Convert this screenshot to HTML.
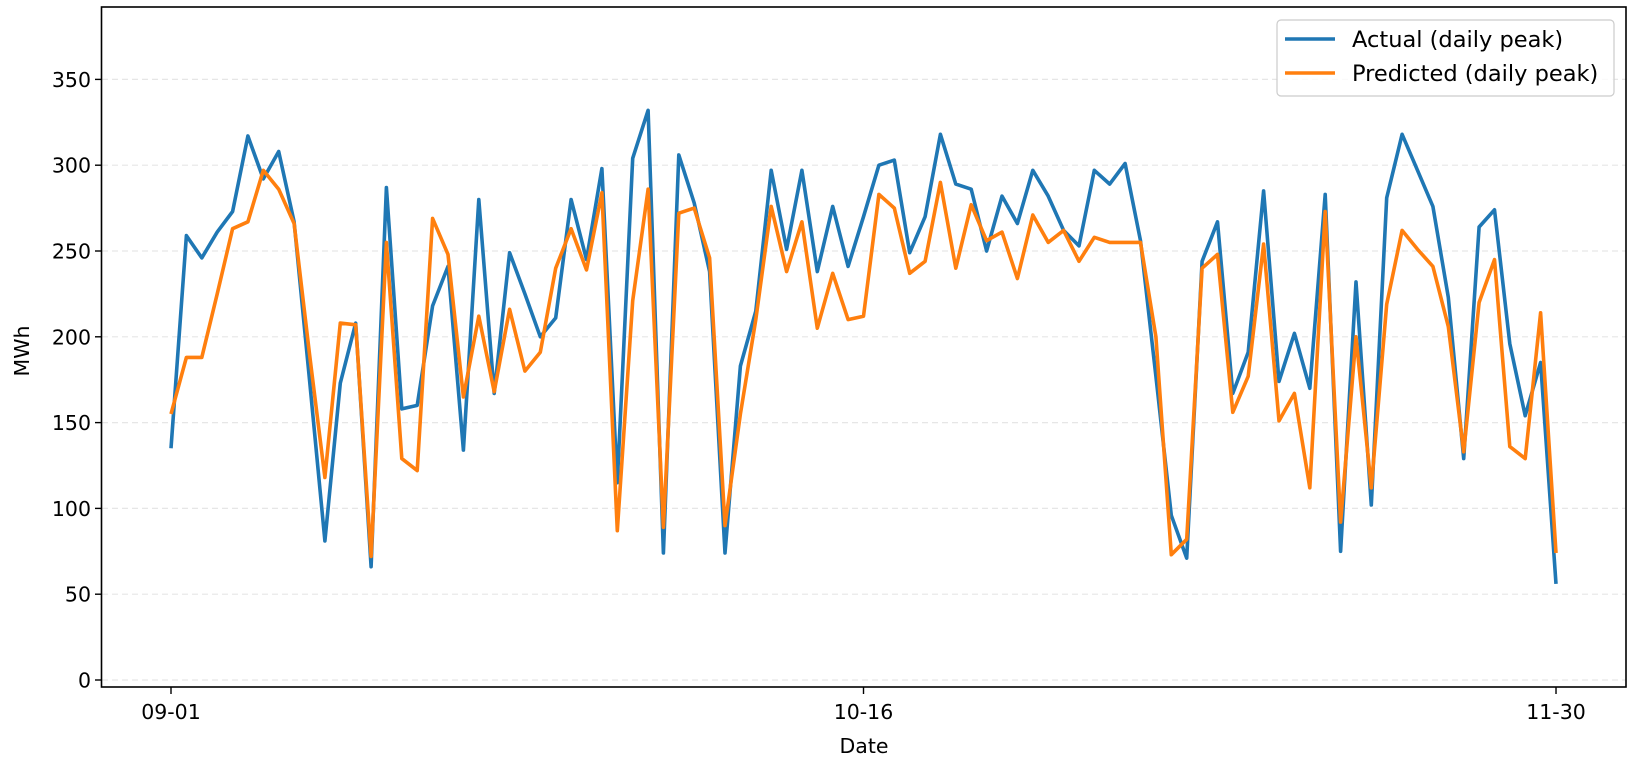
<!DOCTYPE html>
<html><head><meta charset="utf-8"><style>
body{margin:0;background:#fff;}
svg text{font-family:"DejaVu Sans","Liberation Sans",sans-serif;fill:#000;}
</style></head><body>
<svg id="s" width="1634" height="768" xmlns="http://www.w3.org/2000/svg">
<rect width="1634" height="768" fill="#fff"/>
<g id="grid" stroke="#e6e6e6" stroke-width="1.2" stroke-dasharray="6,4"></g>
<g id="ticks"></g>
<polyline id="pb" fill="none" stroke="#1f77b4" stroke-width="3.6" stroke-linejoin="round"/>
<polyline id="po" fill="none" stroke="#ff7f0e" stroke-width="3.6" stroke-linejoin="round"/>
<rect x="101.5" y="7" width="1524.5" height="680" fill="none" stroke="#000" stroke-width="1.6"/>
<rect x="1277" y="20" width="337" height="76" rx="4" fill="#fff" fill-opacity="0.8" stroke="#ccc" stroke-width="1.2"/>
<line x1="1285" y1="39" x2="1335" y2="39" stroke="#1f77b4" stroke-width="3.6"/>
<line x1="1285" y1="73" x2="1335" y2="73" stroke="#ff7f0e" stroke-width="3.6"/>
<text x="1352" y="47" font-size="22.5" textLength="251" lengthAdjust="spacingAndGlyphs" style="display:none"></text>
<text x="1352" y="47" font-size="22.5">Actual (daily peak)</text>
<text x="1352" y="81" font-size="22.5">Predicted (daily peak)</text>
<text x="864" y="753" font-size="20.5" text-anchor="middle">Date</text>
<text transform="translate(29,351) rotate(-90)" font-size="20.5" text-anchor="middle">MWh</text>
</svg>
<script>
var B=[135,259,246,261,273,317,292,308,267,175,81,173,208,66,287,158,160,218,241,134,280,167,249,225,200,211,280,245,298,115,304,332,74,306,278,238,74,183,215,297,251,297,238,276,241,270,300,303,249,270,318,289,286,250,282,266,297,282,262,253,297,289,301,256,177,96,71,244,267,167,191,285,174,202,170,283,75,232,102,281,318,297,276,223,129,264,274,196,154,185,56];
var O=[155,188,188,225,263,267,297,286,266,190,118,208,207,72,255,129,122,269,248,165,212,168,216,180,191,240,263,239,284,87,221,286,89,272,275,246,90,155,210,276,238,267,205,237,210,212,283,275,237,244,290,240,277,256,261,234,271,255,262,244,258,255,255,255,200,73,82,240,248,156,177,254,151,167,112,273,92,200,112,219,262,251,241,206,133,220,245,136,129,214,74];
function X(d){return 171+15.389*d}function Y(v){return 680-1.716*v}
function pts(a){return a.map(function(v,i){return X(i).toFixed(1)+","+Y(v).toFixed(1)}).join(" ")}
document.getElementById("pb").setAttribute("points",pts(B));
document.getElementById("po").setAttribute("points",pts(O));
var g=document.getElementById("grid"),t=document.getElementById("ticks"),h="";
for(var v=0;v<=350;v+=50){var y=Y(v);h+='<line x1="102" x2="1626" y1="'+y+'" y2="'+y+'"/>';
t.innerHTML+='<line x1="95" x2="101.5" y1="'+y+'" y2="'+y+'" stroke="#000" stroke-width="1.4"/><text x="91" y="'+(y+7.5)+'" font-size="20.5" text-anchor="end">'+v+'</text>';}
g.innerHTML=h;
[["09-01",0],["10-16",45],["11-30",90]].forEach(function(a){var x=X(a[1]);
t.innerHTML+='<line x1="'+x+'" x2="'+x+'" y1="687" y2="694" stroke="#000" stroke-width="1.4"/><text x="'+x+'" y="719" font-size="20.5" text-anchor="middle">'+a[0]+'</text>';});
</script>
</body></html>
